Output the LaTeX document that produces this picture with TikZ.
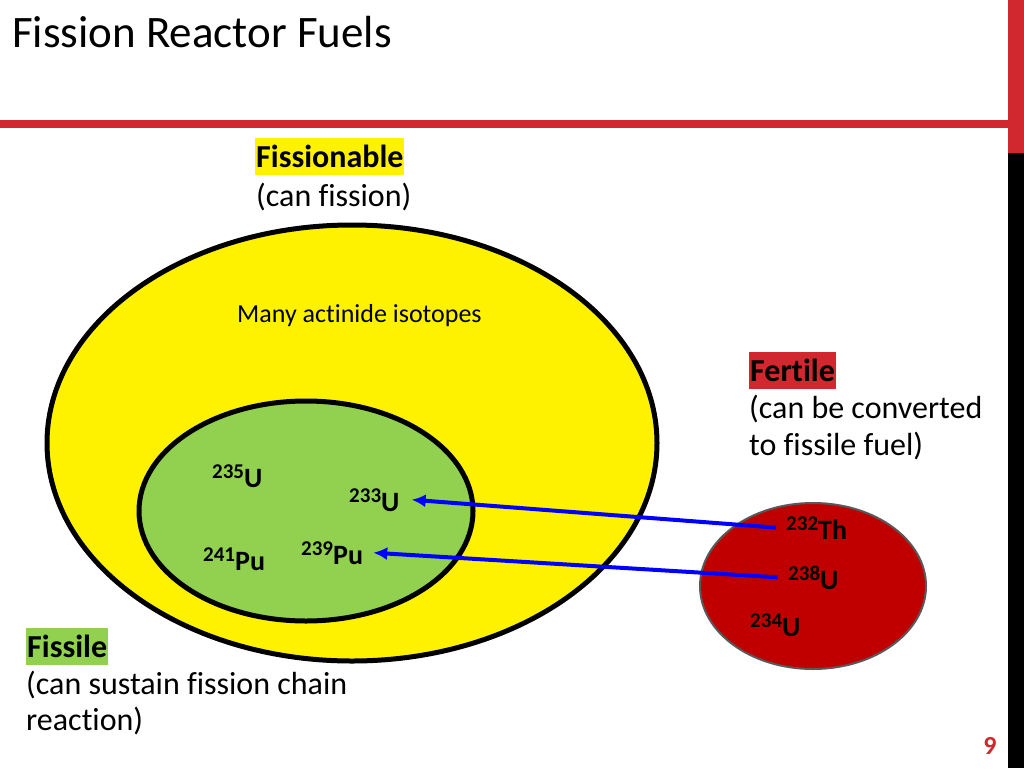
\documentclass[tikz,border=0pt]{standalone}
\usepackage{fontspec}
\setmainfont{Carlito}[Ligatures=NoCommon]
\usetikzlibrary{shapes.geometric,arrows.meta}
\definecolor{slidered}{HTML}{D0282E}
\definecolor{fissgreen}{HTML}{92D050}
\definecolor{fertred}{HTML}{C00000}
\definecolor{hlred}{HTML}{D0282E}
\newcommand{\isosup}[1]{\raisebox{9pt}{\fontsize{21}{23}\selectfont #1}}
\tikzset{
  region/.style={ellipse, draw=black, line width=5pt, inner sep=0pt},
  iso/.style={font=\fontsize{28}{30}\selectfont\bfseries, inner sep=2pt, anchor=base west},
  body/.style={font=\fontsize{32}{36}\selectfont, inner sep=0pt, anchor=base west},
  hl/.style={font=\fontsize{32}{36}\selectfont\bfseries, inner xsep=1pt, inner ysep=0pt, minimum height=37pt, anchor=north west},
  conv/.style={draw=blue, line width=4pt, -{Latex[length=14pt,width=13pt]}}
}
\begin{document}
\begin{tikzpicture}[x=1pt,y=-1pt]
\useasboundingbox (0,0) rectangle (1024,768);
\fill[white] (0,0) rectangle (1024,768);
% slide decorations
\fill[slidered] (0,120) rectangle (1008,128);
\fill[slidered] (1008,0) rectangle (1024,153);
\fill[black] (1008,153) rectangle (1024,768);
\node[font=\fontsize{45}{48}\selectfont, inner sep=0pt, anchor=base west] (title) at (12,48) {Fission Reactor Fuels};
\node[font=\fontsize{26}{28}\selectfont\bfseries, text=slidered, inner sep=0pt, anchor=base] (page) at (990,754) {9};
% regions
\node[region, fill=yellow, minimum width=610pt, minimum height=436pt] (fissionable) at (352,443) {};
\node[region, fill=fissgreen, minimum width=334pt, minimum height=220pt] (fissile) at (306,511) {};
\node[ellipse, draw={rgb,255:red,89;green,89;blue,89}, line width=2pt, fill=fertred, inner sep=0pt, minimum width=226pt, minimum height=166pt] (fertile) at (813,586) {};
% labels
\node[hl, fill=yellow] (lblA) at (255,138) {Fissionable};
\node[body] (lblA2) at (256,206) {(can fission)};
\node[font=\fontsize{26}{28}\selectfont, inner sep=0pt, anchor=base west] (many) at (237,322) {Many actinide isotopes};
\node[hl, fill=hlred] (lblB) at (749,352) {Fertile};
\node[body] (lblB2) at (749,418) {(can be converted};
\node[body] (lblB3) at (749,455) {to fissile fuel)};
\node[hl, fill=fissgreen] (lblC) at (26,628) {Fissile};
\node[body] (lblC2) at (26,694) {(can sustain fission chain};
\node[body] (lblC3) at (26,730) {reaction)};
% isotopes
\node[iso] (u235) at (210,487) {\isosup{235}U};
\node[iso] (u233) at (347,511) {\isosup{233}U};
\node[iso] (pu241) at (201,570) {\isosup{241}Pu};
\node[iso] (pu239) at (299,564) {\isosup{239}Pu};
\node[iso] (th232) at (784,539) {\isosup{232}Th};
\node[iso] (u238) at (786,589) {\isosup{238}U};
\node[iso] (u234) at (748,636) {\isosup{234}U};
% conversions
\draw[conv] ([xshift=-8pt]th232.west) -- ([xshift=10pt]u233.east);
\draw[conv] ([xshift=-8pt]u238.west) -- ([xshift=8pt]pu239.east);
\end{tikzpicture}
\end{document}
